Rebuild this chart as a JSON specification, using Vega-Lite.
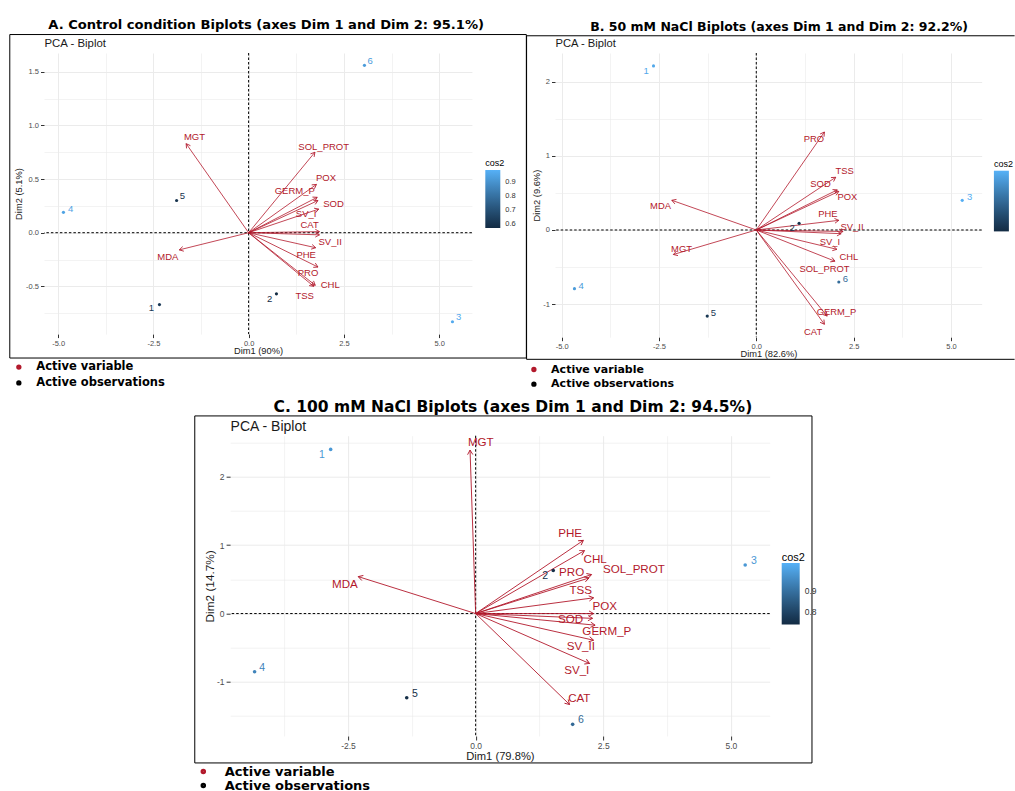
{
  "$schema": "https://vega.github.io/schema/vega-lite/v6.json",
  "padding": {"left": 9, "top": 18, "right": 0, "bottom": 0},
  "background": "white",
  "config": {
    "font": "Liberation Sans",
    "view": {"stroke": null},
    "title": {"font": "DejaVu Sans", "fontWeight": "bold", "color": "#000000", "anchor": "middle"},
    "axis": {"domain": false, "gridColor": "#EBEBEB", "tickColor": "#333333", "labelColor": "#4D4D4D", "titleColor": "#1A1A1A", "titleFontWeight": "normal", "labelFont": "Liberation Sans", "titleFont": "Liberation Sans", "labelFlush": false, "labelOverlap": false, "labelBound": false},
    "legend": {"labelOverlap": false}
  },
  "datasets": {
    "obsA": [
      {"id": "1", "x": -2.34, "y": -0.67, "cos2": 0.62, "lx": -2.55, "ly": -0.70},
      {"id": "2", "x": 0.73, "y": -0.57, "cos2": 0.57, "lx": 0.55, "ly": -0.62},
      {"id": "3", "x": 5.35, "y": -0.83, "cos2": 0.97, "lx": 5.51, "ly": -0.79},
      {"id": "4", "x": -4.86, "y": 0.19, "cos2": 0.95, "lx": -4.67, "ly": 0.22},
      {"id": "5", "x": -1.89, "y": 0.30, "cos2": 0.60, "lx": -1.74, "ly": 0.34},
      {"id": "6", "x": 3.04, "y": 1.56, "cos2": 0.93, "lx": 3.19, "ly": 1.60}
    ],
    "varA": [
      {"name": "MGT", "x": -1.64, "y": 0.83, "lx": -1.42, "ly": 0.89},
      {"name": "MDA", "x": -1.82, "y": -0.16, "lx": -2.12, "ly": -0.23},
      {"name": "SOL_PROT", "x": 1.74, "y": 0.75, "lx": 1.97, "ly": 0.80},
      {"name": "POX", "x": 1.78, "y": 0.45, "lx": 2.03, "ly": 0.51},
      {"name": "GERM_P", "x": 1.80, "y": 0.33, "lx": 1.21, "ly": 0.39},
      {"name": "SOD", "x": 1.82, "y": 0.30, "lx": 2.23, "ly": 0.27},
      {"name": "SV_I", "x": 1.84, "y": 0.22, "lx": 1.51, "ly": 0.17},
      {"name": "CAT", "x": 1.86, "y": 0.01, "lx": 1.60, "ly": 0.07},
      {"name": "SV_II", "x": 1.86, "y": -0.02, "lx": 2.14, "ly": -0.09},
      {"name": "PHE", "x": 1.76, "y": -0.14, "lx": 1.51, "ly": -0.21},
      {"name": "PRO", "x": 1.82, "y": -0.32, "lx": 1.56, "ly": -0.38},
      {"name": "CHL", "x": 1.75, "y": -0.49, "lx": 2.14, "ly": -0.49},
      {"name": "TSS", "x": 1.71, "y": -0.50, "lx": 1.47, "ly": -0.59}
    ],
    "obsB": [
      {"id": "1", "x": -2.64, "y": 2.21, "cos2": 0.96, "lx": -2.83, "ly": 2.14},
      {"id": "2", "x": 1.10, "y": 0.09, "cos2": 0.55, "lx": 0.92, "ly": 0.03},
      {"id": "3", "x": 5.29, "y": 0.40, "cos2": 0.98, "lx": 5.48, "ly": 0.44},
      {"id": "4", "x": -4.67, "y": -0.79, "cos2": 0.92, "lx": -4.50, "ly": -0.75},
      {"id": "5", "x": -1.26, "y": -1.16, "cos2": 0.57, "lx": -1.10, "ly": -1.12},
      {"id": "6", "x": 2.12, "y": -0.70, "cos2": 0.76, "lx": 2.29, "ly": -0.66}
    ],
    "varB": [
      {"name": "PRO", "x": 1.75, "y": 1.32, "lx": 1.48, "ly": 1.23},
      {"name": "TSS", "x": 2.04, "y": 0.71, "lx": 2.27, "ly": 0.79},
      {"name": "SOD", "x": 2.08, "y": 0.54, "lx": 1.65, "ly": 0.62},
      {"name": "POX", "x": 2.12, "y": 0.52, "lx": 2.34, "ly": 0.44},
      {"name": "PHE", "x": 2.12, "y": 0.13, "lx": 1.84, "ly": 0.22},
      {"name": "SV_II", "x": 2.23, "y": -0.02, "lx": 2.46, "ly": 0.04},
      {"name": "SOL_PROT", "x": 2.18, "y": -0.05, "lx": 1.75, "ly": -0.53},
      {"name": "SV_I", "x": 2.07, "y": -0.26, "lx": 1.89, "ly": -0.16},
      {"name": "CHL", "x": 2.02, "y": -0.42, "lx": 2.38, "ly": -0.37},
      {"name": "GERM_P", "x": 1.82, "y": -1.16, "lx": 2.06, "ly": -1.10},
      {"name": "CAT", "x": 1.75, "y": -1.27, "lx": 1.46, "ly": -1.37},
      {"name": "MDA", "x": -2.17, "y": 0.40, "lx": -2.46, "ly": 0.32},
      {"name": "MGT", "x": -2.13, "y": -0.33, "lx": -1.92, "ly": -0.26}
    ],
    "obsC": [
      {"id": "1", "x": -2.84, "y": 2.40, "cos2": 0.98, "lx": -3.01, "ly": 2.32},
      {"id": "2", "x": 1.52, "y": 0.63, "cos2": 0.75, "lx": 1.36, "ly": 0.55},
      {"id": "3", "x": 5.28, "y": 0.71, "cos2": 0.98, "lx": 5.45, "ly": 0.77},
      {"id": "4", "x": -4.33, "y": -0.85, "cos2": 0.94, "lx": -4.18, "ly": -0.80},
      {"id": "5", "x": -1.35, "y": -1.23, "cos2": 0.75, "lx": -1.19, "ly": -1.17},
      {"id": "6", "x": 1.90, "y": -1.62, "cos2": 0.88, "lx": 2.06, "ly": -1.56}
    ],
    "varC": [
      {"name": "MGT", "x": -0.11, "y": 2.39, "lx": 0.10, "ly": 2.49},
      {"name": "MDA", "x": -2.30, "y": 0.54, "lx": -2.56, "ly": 0.42},
      {"name": "PHE", "x": 2.11, "y": 1.07, "lx": 1.85, "ly": 1.17},
      {"name": "CHL", "x": 2.13, "y": 0.92, "lx": 2.34, "ly": 0.79},
      {"name": "PRO", "x": 2.22, "y": 0.52, "lx": 1.88, "ly": 0.60},
      {"name": "SOL_PROT", "x": 2.27, "y": 0.57, "lx": 3.10, "ly": 0.63},
      {"name": "TSS", "x": 2.31, "y": 0.23, "lx": 2.06, "ly": 0.33},
      {"name": "POX", "x": 2.31, "y": 0.00, "lx": 2.53, "ly": 0.09},
      {"name": "SOD", "x": 2.29, "y": -0.07, "lx": 1.86, "ly": -0.10},
      {"name": "GERM_P", "x": 2.34, "y": -0.17, "lx": 2.57, "ly": -0.27},
      {"name": "SV_II", "x": 2.31, "y": -0.39, "lx": 2.06, "ly": -0.49},
      {"name": "SV_I", "x": 2.23, "y": -0.73, "lx": 1.98, "ly": -0.84},
      {"name": "CAT", "x": 1.84, "y": -1.33, "lx": 2.03, "ly": -1.25}
    ]
  },
  "spacing": 8.7,
  "resolve": {"scale": {"color": "independent", "fill": "independent"}, "legend": {"color": "independent", "fill": "independent"}},
  "vconcat": [
    {
      "hconcat": [
        {
          "width": 427.9,
          "height": 281.1,
          "title": {"text": "A. Control condition Biplots (axes Dim 1 and Dim 2: 95.1%)", "fontSize": 13.1, "dx": 8.2, "offset": 2},
          "resolve": {"axis": {"x": "independent", "y": "independent"}},
          "layer": [
            {
              "data": {"values": [{}]},
              "mark": {"type": "rect", "fill": "transparent", "stroke": "#000000", "strokeWidth": 1},
              "encoding": {
                "x": {"datum": -6.268, "type": "quantitative", "scale": {"domain": [-5.37, 5.86], "nice": false, "zero": false}, "axis": null},
                "x2": {"datum": 7.289},
                "y": {"datum": 1.847, "type": "quantitative", "scale": {"domain": [-0.945, 1.675], "nice": false, "zero": false}, "axis": null},
                "y2": {"datum": -1.168}
              }
            },
            {
              "data": {"values": [{}]},
              "mark": {"type": "rule", "color": "#000000", "strokeDash": [2.5, 2], "strokeWidth": 1},
              "encoding": {
                "x": {"datum": 0, "type": "quantitative", "scale": {"domain": [-5.37, 5.86], "nice": false, "zero": false},
                  "axis": {"orient": "top", "title": "PCA - Biplot", "labels": false, "ticks": false, "domain": false, "grid": false, "tickSize": 0, "labelPadding": 0, "titleAnchor": "start", "titleFontSize": 11.4, "titleColor": "#1A1A1A", "titlePadding": 5}}
              }
            },
            {
              "data": {"values": [{}]},
              "mark": {"type": "rule", "color": "#000000", "strokeDash": [2.5, 2], "strokeWidth": 1},
              "encoding": {
                "y": {"datum": 0, "type": "quantitative", "scale": {"domain": [-0.945, 1.675], "nice": false, "zero": false}, "axis": null}
              }
            },
            {
              "data": {"name": "varA"},
              "mark": {"type": "rule", "strokeWidth": 0.8},
              "encoding": {
                "x": {"field": "x", "type": "quantitative", "scale": {"domain": [-5.37, 5.86], "nice": false, "zero": false}, "axis": null},
                "y": {"field": "y", "type": "quantitative", "scale": {"domain": [-0.945, 1.675], "nice": false, "zero": false}, "axis": null},
                "x2": {"datum": 0},
                "y2": {"datum": 0},
                "color": {"datum": "Active variable", "type": "nominal", "scale": {"domain": ["Active variable", "Active observations"], "range": ["#B2182B", "#000000"]},
                  "legend": {"title": null, "orient": "none", "legendX": -30.9, "legendY": 308.3, "direction": "vertical", "symbolType": "circle", "symbolSize": 8, "symbolStrokeWidth": 2.5, "labelFont": "DejaVu Sans", "labelFontWeight": "bold", "labelFontSize": 11.5, "labelColor": "#000000", "labelOffset": 11.7, "rowPadding": 1.9, "labelLimit": 300}}
              }
            },
            {
              "data": {"name": "varA"},
              "mark": {"type": "point", "shape": "M-0.5,0.87L0,0L0.5,0.87", "filled": false, "stroke": "#B2182B", "strokeWidth": 0.8, "size": 90, "opacity": 1, "angle": {"expr": "atan2(datum.x*38.1, datum.y*107.3)*180/PI"}},
              "encoding": {
                "x": {"field": "x", "type": "quantitative", "scale": {"domain": [-5.37, 5.86], "nice": false, "zero": false}, "axis": null},
                "y": {"field": "y", "type": "quantitative", "scale": {"domain": [-0.945, 1.675], "nice": false, "zero": false}, "axis": null}
              }
            },
            {
              "data": {"name": "varA"},
              "mark": {"type": "text", "color": "#B2182B", "fontSize": 9.5},
              "encoding": {
                "x": {"field": "lx", "type": "quantitative", "scale": {"domain": [-5.37, 5.86], "nice": false, "zero": false}, "axis": null},
                "y": {"field": "ly", "type": "quantitative", "scale": {"domain": [-0.945, 1.675], "nice": false, "zero": false}, "axis": null},
                "text": {"field": "name"}
              }
            },
            {
              "data": {"name": "obsA"},
              "mark": {"type": "point", "filled": true, "size": 10, "opacity": 1},
              "encoding": {
                "x": {"field": "x", "type": "quantitative", "scale": {"domain": [-5.37, 5.86], "nice": false, "zero": false},
                  "axis": {"orient": "bottom", "title": "Dim1 (90%)", "values": [-5, -3.75, -2.5, -1.25, 0, 1.25, 2.5, 3.75, 5],
                    "labelExpr": "abs(datum.value/2.5-round(datum.value/2.5))<0.001 ? (datum.value<0 ? '-' : '') + format(abs(datum.value), '.1f') : ''",
                    "grid": true,
                    "gridWidth": {"condition": {"test": "abs(datum.value/2.5-round(datum.value/2.5))<0.001", "value": 1}, "value": 0.6},
                    "tickOpacity": {"condition": {"test": "abs(datum.value/2.5-round(datum.value/2.5))<0.001", "value": 1}, "value": 0},
                    "tickSize": 3.5, "labelPadding": 1.5, "labelFontSize": 7.5, "titleFontSize": 9.3, "titlePadding": 0}},
                "y": {"field": "y", "type": "quantitative", "scale": {"domain": [-0.945, 1.675], "nice": false, "zero": false},
                  "axis": {"orient": "left", "title": "Dim2 (5.1%)", "values": [-0.75, -0.5, -0.25, 0, 0.25, 0.5, 0.75, 1, 1.25, 1.5],
                    "labelExpr": "abs(datum.value*2-round(datum.value*2))<0.001 ? (datum.value<0 ? '-' : '') + format(abs(datum.value), '.1f') : ''",
                    "grid": true,
                    "gridWidth": {"condition": {"test": "abs(datum.value*2-round(datum.value*2))<0.001", "value": 1}, "value": 0.6},
                    "tickOpacity": {"condition": {"test": "abs(datum.value*2-round(datum.value*2))<0.001", "value": 1}, "value": 0},
                    "tickSize": 3.5, "labelPadding": 2, "labelFontSize": 7.5, "titleFontSize": 9.3, "titlePadding": 2}},
                "fill": {"field": "cos2", "type": "quantitative", "scale": {"domain": [0.57, 0.99], "range": ["#132B43", "#56B1F7"], "interpolate": "lab"},
                  "legend": {"type": "gradient", "title": "cos2", "orient": "none", "legendX": 441.3, "legendY": 105.7, "direction": "vertical", "gradientLength": 58, "gradientThickness": 15, "gradientStrokeWidth": 0, "values": [0.6, 0.7, 0.8, 0.9], "format": ".1f", "labelFontSize": 7.5, "labelColor": "#333333", "labelOffset": 5, "titleFontSize": 9, "titleFontWeight": "normal", "titleColor": "#000000", "titlePadding": 2.3, "titleFont": "Liberation Sans", "labelFont": "Liberation Sans"}}
              }
            },
            {
              "data": {"name": "obsA"},
              "mark": {"type": "text", "fontSize": 9.5},
              "encoding": {
                "x": {"field": "lx", "type": "quantitative", "scale": {"domain": [-5.37, 5.86], "nice": false, "zero": false}, "axis": null},
                "y": {"field": "ly", "type": "quantitative", "scale": {"domain": [-0.945, 1.675], "nice": false, "zero": false}, "axis": null},
                "text": {"field": "id"},
                "fill": {"field": "cos2", "type": "quantitative", "scale": {"domain": [0.57, 0.99], "range": ["#132B43", "#56B1F7"], "interpolate": "lab"},
                  "legend": {"type": "gradient", "title": "cos2", "orient": "none", "legendX": 441.3, "legendY": 105.7, "direction": "vertical", "gradientLength": 58, "gradientThickness": 15, "gradientStrokeWidth": 0, "values": [0.6, 0.7, 0.8, 0.9], "format": ".1f", "labelFontSize": 7.5, "labelColor": "#333333", "labelOffset": 5, "titleFontSize": 9, "titleFontWeight": "normal", "titleColor": "#000000", "titlePadding": 2.3, "titleFont": "Liberation Sans", "labelFont": "Liberation Sans"}}
              }
            }
          ]
        },
        {
          "width": 426.7,
          "height": 284.2,
          "title": {"text": "B. 50 mM NaCl Biplots (axes Dim 1 and Dim 2: 92.2%)", "fontSize": 12.5, "dx": 10.7, "offset": 2},
          "resolve": {"axis": {"x": "independent", "y": "independent"}},
          "layer": [
            {
              "data": {"values": [{}]},
              "mark": {"type": "rule", "color": "#000000", "strokeWidth": 1},
              "encoding": {
                "x": {"datum": -5.9, "type": "quantitative", "scale": {"domain": [-5.17, 5.79], "nice": false, "zero": false}, "axis": null},
                "x2": {"datum": 6.635},
                "y": {"datum": 2.616, "type": "quantitative", "scale": {"domain": [-1.444, 2.384], "nice": false, "zero": false}, "axis": null}
              }
            },
            {
              "data": {"values": [{}]},
              "mark": {"type": "rule", "color": "#000000", "strokeWidth": 1},
              "encoding": {
                "x": {"datum": -5.9, "type": "quantitative", "scale": {"domain": [-5.17, 5.79], "nice": false, "zero": false}, "axis": null},
                "x2": {"datum": 6.635},
                "y": {"datum": -1.742, "type": "quantitative", "scale": {"domain": [-1.444, 2.384], "nice": false, "zero": false}, "axis": null}
              }
            },
            {
              "data": {"values": [{}]},
              "mark": {"type": "rule", "color": "#000000", "strokeWidth": 1},
              "encoding": {
                "x": {"datum": -5.9, "type": "quantitative", "scale": {"domain": [-5.17, 5.79], "nice": false, "zero": false}, "axis": null},
                "y": {"datum": 2.616, "type": "quantitative", "scale": {"domain": [-1.444, 2.384], "nice": false, "zero": false}, "axis": null},
                "y2": {"datum": -1.742}
              }
            },
            {
              "data": {"values": [{}]},
              "mark": {"type": "rule", "color": "#000000", "strokeDash": [2.5, 2], "strokeWidth": 1},
              "encoding": {
                "x": {"datum": 0, "type": "quantitative", "scale": {"domain": [-5.17, 5.79], "nice": false, "zero": false},
                  "axis": {"orient": "top", "title": "PCA - Biplot", "labels": false, "ticks": false, "domain": false, "grid": false, "tickSize": 0, "labelPadding": 0, "titleAnchor": "start", "titleFontSize": 11.2, "titleColor": "#1A1A1A", "titlePadding": 5}}
              }
            },
            {
              "data": {"values": [{}]},
              "mark": {"type": "rule", "color": "#000000", "strokeDash": [2.5, 2], "strokeWidth": 1},
              "encoding": {
                "y": {"datum": 0, "type": "quantitative", "scale": {"domain": [-1.444, 2.384], "nice": false, "zero": false}, "axis": null}
              }
            },
            {
              "data": {"name": "varB"},
              "mark": {"type": "rule", "strokeWidth": 0.8},
              "encoding": {
                "x": {"field": "x", "type": "quantitative", "scale": {"domain": [-5.17, 5.79], "nice": false, "zero": false}, "axis": null},
                "y": {"field": "y", "type": "quantitative", "scale": {"domain": [-1.444, 2.384], "nice": false, "zero": false}, "axis": null},
                "x2": {"datum": 0},
                "y2": {"datum": 0},
                "color": {"datum": "Active variable", "type": "nominal", "scale": {"domain": ["Active variable", "Active observations"], "range": ["#B2182B", "#000000"]},
                  "legend": {"title": null, "orient": "none", "legendX": -26.6, "legendY": 311, "direction": "vertical", "symbolType": "circle", "symbolSize": 8, "symbolStrokeWidth": 2.5, "labelFont": "DejaVu Sans", "labelFontWeight": "bold", "labelFontSize": 11, "labelColor": "#000000", "labelOffset": 11.7, "rowPadding": 1.7, "labelLimit": 300}}
              }
            },
            {
              "data": {"name": "varB"},
              "mark": {"type": "point", "shape": "M-0.5,0.87L0,0L0.5,0.87", "filled": false, "stroke": "#B2182B", "strokeWidth": 0.8, "size": 90, "opacity": 1, "angle": {"expr": "atan2(datum.x*38.93, datum.y*74.23)*180/PI"}},
              "encoding": {
                "x": {"field": "x", "type": "quantitative", "scale": {"domain": [-5.17, 5.79], "nice": false, "zero": false}, "axis": null},
                "y": {"field": "y", "type": "quantitative", "scale": {"domain": [-1.444, 2.384], "nice": false, "zero": false}, "axis": null}
              }
            },
            {
              "data": {"name": "varB"},
              "mark": {"type": "text", "color": "#B2182B", "fontSize": 9.4},
              "encoding": {
                "x": {"field": "lx", "type": "quantitative", "scale": {"domain": [-5.17, 5.79], "nice": false, "zero": false}, "axis": null},
                "y": {"field": "ly", "type": "quantitative", "scale": {"domain": [-1.444, 2.384], "nice": false, "zero": false}, "axis": null},
                "text": {"field": "name"}
              }
            },
            {
              "data": {"name": "obsB"},
              "mark": {"type": "point", "filled": true, "size": 10, "opacity": 1},
              "encoding": {
                "x": {"field": "x", "type": "quantitative", "scale": {"domain": [-5.17, 5.79], "nice": false, "zero": false},
                  "axis": {"orient": "bottom", "title": "Dim1 (82.6%)", "values": [-5, -3.75, -2.5, -1.25, 0, 1.25, 2.5, 3.75, 5],
                    "labelExpr": "abs(datum.value/2.5-round(datum.value/2.5))<0.001 ? (datum.value<0 ? '-' : '') + format(abs(datum.value), '.1f') : ''",
                    "grid": true,
                    "gridWidth": {"condition": {"test": "abs(datum.value/2.5-round(datum.value/2.5))<0.001", "value": 1}, "value": 0.6},
                    "tickOpacity": {"condition": {"test": "abs(datum.value/2.5-round(datum.value/2.5))<0.001", "value": 1}, "value": 0},
                    "tickSize": 3.5, "labelPadding": 1.5, "labelFontSize": 7.5, "titleFontSize": 9.3, "titlePadding": 0}},
                "y": {"field": "y", "type": "quantitative", "scale": {"domain": [-1.444, 2.384], "nice": false, "zero": false},
                  "axis": {"orient": "left", "title": "Dim2 (9.6%)", "values": [-1, -0.5, 0, 0.5, 1, 1.5, 2],
                    "labelExpr": "abs(datum.value-round(datum.value))<0.001 ? (datum.value<0 ? '-' : '') + format(abs(datum.value), 'd') : ''",
                    "grid": true,
                    "gridWidth": {"condition": {"test": "abs(datum.value-round(datum.value))<0.001", "value": 1}, "value": 0.6},
                    "tickOpacity": {"condition": {"test": "abs(datum.value-round(datum.value))<0.001", "value": 1}, "value": 0},
                    "tickSize": 3.5, "labelPadding": 2, "labelFontSize": 7.5, "titleFontSize": 9.3, "titlePadding": 1}},
                "fill": {"field": "cos2", "type": "quantitative", "scale": {"domain": [0.52, 0.99], "range": ["#132B43", "#56B1F7"], "interpolate": "lab"},
                  "legend": {"type": "gradient", "title": "cos2", "orient": "none", "legendX": 438.9, "legendY": 106.7, "direction": "vertical", "gradientLength": 60.7, "gradientThickness": 15, "gradientStrokeWidth": 0, "values": [0.6, 0.7, 0.8, 0.9], "labelExpr": "''", "labelFontSize": 7.5, "labelColor": "#333333", "labelOffset": 5, "titleFontSize": 9, "titleFontWeight": "normal", "titleColor": "#000000", "titlePadding": 2, "titleFont": "Liberation Sans", "labelFont": "Liberation Sans"}}
              }
            },
            {
              "data": {"name": "obsB"},
              "mark": {"type": "text", "fontSize": 9.5},
              "encoding": {
                "x": {"field": "lx", "type": "quantitative", "scale": {"domain": [-5.17, 5.79], "nice": false, "zero": false}, "axis": null},
                "y": {"field": "ly", "type": "quantitative", "scale": {"domain": [-1.444, 2.384], "nice": false, "zero": false}, "axis": null},
                "text": {"field": "id"},
                "fill": {"field": "cos2", "type": "quantitative", "scale": {"domain": [0.52, 0.99], "range": ["#132B43", "#56B1F7"], "interpolate": "lab"},
                  "legend": {"type": "gradient", "title": "cos2", "orient": "none", "legendX": 438.9, "legendY": 106.7, "direction": "vertical", "gradientLength": 60.7, "gradientThickness": 15, "gradientStrokeWidth": 0, "values": [0.6, 0.7, 0.8, 0.9], "labelExpr": "''", "labelFontSize": 7.5, "labelColor": "#333333", "labelOffset": 5, "titleFontSize": 9, "titleFontWeight": "normal", "titleColor": "#000000", "titlePadding": 2, "titleFont": "Liberation Sans", "labelFont": "Liberation Sans"}}
              }
            }
          ]
        }
      ],
      "spacing": -1,
      "resolve": {"scale": {"color": "independent", "fill": "independent"}, "legend": {"color": "independent", "fill": "independent"}}
    },
    {
      "hconcat": [
        {
          "width": 1,
          "height": 1,
          "data": {"values": []},
          "mark": {"type": "point", "opacity": 0},
          "encoding": {}
        },
        {
          "width": 539.6,
          "height": 300.3,
          "title": {"text": "C. 100 mM NaCl Biplots (axes Dim 1 and Dim 2: 94.5%)", "fontSize": 15.5, "dx": 13, "offset": 0},
          "resolve": {"axis": {"x": "independent", "y": "independent"}},
          "layer": [
            {
              "data": {"values": [{}]},
              "mark": {"type": "rect", "fill": "transparent", "stroke": "#000000", "strokeWidth": 1},
              "encoding": {
                "x": {"datum": -5.502, "type": "quantitative", "scale": {"domain": [-4.81, 5.76], "nice": false, "zero": false}, "axis": null},
                "x2": {"datum": 6.588},
                "y": {"datum": 2.889, "type": "quantitative", "scale": {"domain": [-1.79, 2.6], "nice": false, "zero": false}, "axis": null},
                "y2": {"datum": -2.184}
              }
            },
            {
              "data": {"values": [{}]},
              "mark": {"type": "rule", "color": "#000000", "strokeDash": [2.5, 2], "strokeWidth": 1},
              "encoding": {
                "x": {"datum": 0, "type": "quantitative", "scale": {"domain": [-4.81, 5.76], "nice": false, "zero": false},
                  "axis": {"orient": "top", "title": "PCA - Biplot", "labels": false, "ticks": false, "domain": false, "grid": false, "tickSize": 0, "labelPadding": 0, "titleAnchor": "start", "titleFontSize": 14, "titleColor": "#1A1A1A", "titlePadding": 2.2}}
              }
            },
            {
              "data": {"values": [{}]},
              "mark": {"type": "rule", "color": "#000000", "strokeDash": [2.5, 2], "strokeWidth": 1},
              "encoding": {
                "y": {"datum": 0, "type": "quantitative", "scale": {"domain": [-1.79, 2.6], "nice": false, "zero": false}, "axis": null}
              }
            },
            {
              "data": {"name": "varC"},
              "mark": {"type": "rule", "strokeWidth": 0.9},
              "encoding": {
                "x": {"field": "x", "type": "quantitative", "scale": {"domain": [-4.81, 5.76], "nice": false, "zero": false}, "axis": null},
                "y": {"field": "y", "type": "quantitative", "scale": {"domain": [-1.79, 2.6], "nice": false, "zero": false}, "axis": null},
                "x2": {"datum": 0},
                "y2": {"datum": 0},
                "color": {"datum": "Active variable", "type": "nominal", "scale": {"domain": ["Active variable", "Active observations"], "range": ["#B2182B", "#000000"]},
                  "legend": {"title": null, "orient": "none", "legendX": -33.3, "legendY": 329.3, "direction": "vertical", "symbolType": "circle", "symbolSize": 9, "symbolStrokeWidth": 2.5, "labelFont": "DejaVu Sans", "labelFontWeight": "bold", "labelFontSize": 13, "labelColor": "#000000", "labelOffset": 15, "rowPadding": -0.5, "labelLimit": 300}}
              }
            },
            {
              "data": {"name": "varC"},
              "mark": {"type": "point", "shape": "M-0.5,0.87L0,0L0.5,0.87", "filled": false, "stroke": "#B2182B", "strokeWidth": 0.9, "size": 110, "opacity": 1, "angle": {"expr": "atan2(datum.x*51.05, datum.y*68.4)*180/PI"}},
              "encoding": {
                "x": {"field": "x", "type": "quantitative", "scale": {"domain": [-4.81, 5.76], "nice": false, "zero": false}, "axis": null},
                "y": {"field": "y", "type": "quantitative", "scale": {"domain": [-1.79, 2.6], "nice": false, "zero": false}, "axis": null}
              }
            },
            {
              "data": {"name": "varC"},
              "mark": {"type": "text", "color": "#B2182B", "fontSize": 11.6},
              "encoding": {
                "x": {"field": "lx", "type": "quantitative", "scale": {"domain": [-4.81, 5.76], "nice": false, "zero": false}, "axis": null},
                "y": {"field": "ly", "type": "quantitative", "scale": {"domain": [-1.79, 2.6], "nice": false, "zero": false}, "axis": null},
                "text": {"field": "name"}
              }
            },
            {
              "data": {"name": "obsC"},
              "mark": {"type": "point", "filled": true, "size": 13, "opacity": 1},
              "encoding": {
                "x": {"field": "x", "type": "quantitative", "scale": {"domain": [-4.81, 5.76], "nice": false, "zero": false},
                  "axis": {"orient": "bottom", "title": "Dim1 (79.8%)", "values": [-3.75, -2.5, -1.25, 0, 1.25, 2.5, 3.75, 5],
                    "labelExpr": "abs(datum.value/2.5-round(datum.value/2.5))<0.001 ? (datum.value<0 ? '-' : '') + format(abs(datum.value), '.1f') : ''",
                    "grid": true,
                    "gridWidth": {"condition": {"test": "abs(datum.value/2.5-round(datum.value/2.5))<0.001", "value": 1}, "value": 0.6},
                    "tickOpacity": {"condition": {"test": "abs(datum.value/2.5-round(datum.value/2.5))<0.001", "value": 1}, "value": 0},
                    "tickSize": 4, "labelPadding": 1.5, "labelFontSize": 8.5, "titleFontSize": 11.2, "titlePadding": 0.5}},
                "y": {"field": "y", "type": "quantitative", "scale": {"domain": [-1.79, 2.6], "nice": false, "zero": false},
                  "axis": {"orient": "left", "title": "Dim2 (14.7%)", "values": [-1.5, -1, -0.5, 0, 0.5, 1, 1.5, 2, 2.5],
                    "labelExpr": "abs(datum.value-round(datum.value))<0.001 ? (datum.value<0 ? '-' : '') + format(abs(datum.value), 'd') : ''",
                    "grid": true,
                    "gridWidth": {"condition": {"test": "abs(datum.value-round(datum.value))<0.001", "value": 1}, "value": 0.6},
                    "tickOpacity": {"condition": {"test": "abs(datum.value-round(datum.value))<0.001", "value": 1}, "value": 0},
                    "tickSize": 4, "labelPadding": 2, "labelFontSize": 8.5, "titleFontSize": 11.8, "titlePadding": 1}},
                "fill": {"field": "cos2", "type": "quantitative", "scale": {"domain": [0.74, 1.03], "range": ["#132B43", "#56B1F7"], "interpolate": "lab"},
                  "legend": {"type": "gradient", "title": "cos2", "orient": "none", "legendX": 551.6, "legendY": 116.4, "direction": "vertical", "gradientLength": 61.6, "gradientThickness": 18, "gradientStrokeWidth": 0, "values": [0.8, 0.9], "format": ".1f", "labelFontSize": 8.5, "labelColor": "#333333", "labelOffset": 5, "titleFontSize": 10.9, "titleFontWeight": "normal", "titleColor": "#000000", "titlePadding": 0, "titleFont": "Liberation Sans", "labelFont": "Liberation Sans"}}
              }
            },
            {
              "data": {"name": "obsC"},
              "mark": {"type": "text", "fontSize": 10.5},
              "encoding": {
                "x": {"field": "lx", "type": "quantitative", "scale": {"domain": [-4.81, 5.76], "nice": false, "zero": false}, "axis": null},
                "y": {"field": "ly", "type": "quantitative", "scale": {"domain": [-1.79, 2.6], "nice": false, "zero": false}, "axis": null},
                "text": {"field": "id"},
                "fill": {"field": "cos2", "type": "quantitative", "scale": {"domain": [0.74, 1.03], "range": ["#132B43", "#56B1F7"], "interpolate": "lab"},
                  "legend": {"type": "gradient", "title": "cos2", "orient": "none", "legendX": 551.6, "legendY": 116.4, "direction": "vertical", "gradientLength": 61.6, "gradientThickness": 18, "gradientStrokeWidth": 0, "values": [0.8, 0.9], "format": ".1f", "labelFontSize": 8.5, "labelColor": "#333333", "labelOffset": 5, "titleFontSize": 10.9, "titleFontWeight": "normal", "titleColor": "#000000", "titlePadding": 0, "titleFont": "Liberation Sans", "labelFont": "Liberation Sans"}}
              }
            }
          ]
        }
      ],
      "spacing": 149.1,
      "resolve": {"scale": {"color": "independent", "fill": "independent"}, "legend": {"color": "independent", "fill": "independent"}}
    }
  ]
}
